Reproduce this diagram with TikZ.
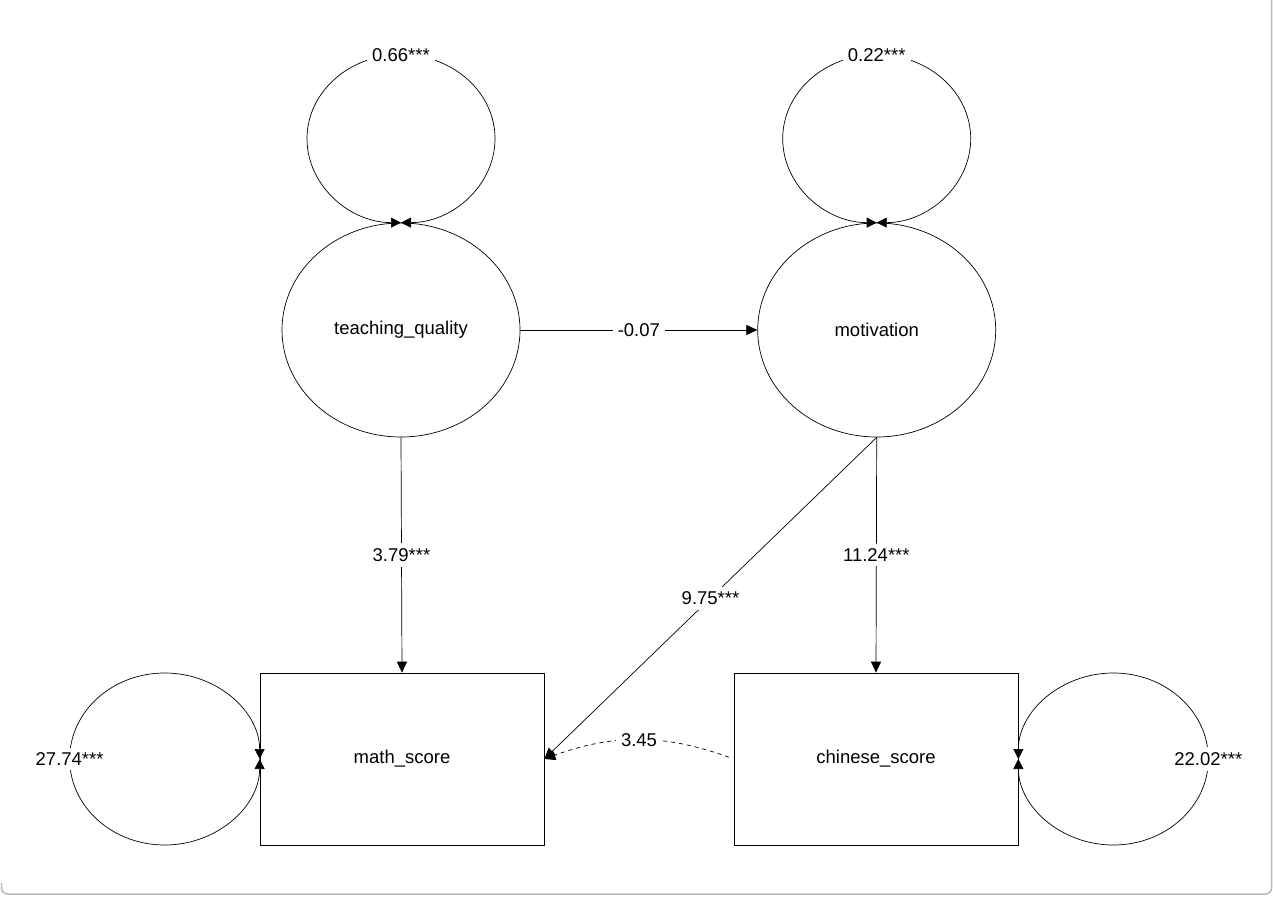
\documentclass[tikz,border=0pt]{standalone}
\usepackage{fontspec}
\setmainfont{Liberation Sans}
\usetikzlibrary{shapes.geometric,arrows.meta,positioning}

\begin{document}
\begin{tikzpicture}[x=1pt,y=1pt,
    font=\fontsize{18.5}{21}\selectfont, line width=0.7pt,
    latent/.style={ellipse, draw, minimum width=238pt, minimum height=214pt, inner sep=0pt},
    observed/.style={rectangle, draw, minimum width=284pt, minimum height=172pt, inner sep=0pt},
    regarrow/.style={-{Triangle[length=11pt,width=10pt]}},
    varloop/.style={{Triangle[length=10pt,width=10pt]}-{Triangle[length=10pt,width=10pt]}},
    est/.style={fill=white, inner sep=5pt}]

    \useasboundingbox (0,0) rectangle (1273,897);

    % window frame
    \draw[gray!55, line width=1.5pt, rounded corners=6pt] (1.5,14) |- (1271.5,3) -- (1271.5,897);

    % variables
    \node[latent] (teach) at (401,567) {teaching\_quality};
    \node[latent, right=237pt of teach] (motiv) {motivation};
    \node[observed] (math) at (402,138) {math\_score};
    \node[observed] (chin) at (876,138) {chinese\_score};

    % regressions
    \draw[regarrow] (teach) -- node[est]{-0.07} (motiv);
    \draw[regarrow] (teach.south) -- node[est]{3.79***} (math.north);
    \draw[regarrow] (motiv.south) -- node[est]{11.24***} (chin.north);
    \draw[regarrow] (motiv.south) -- node[est]{9.75***} (math.east);

    % covariance
    \draw[regarrow, dash pattern=on 4pt off 4pt, shorten <=5pt] (chin.west) to[out=160, in=20] node[est]{3.45} (math.east);

    % variances
    \draw[varloop] (teach.north) arc[start angle=-90, end angle=90, x radius=94, y radius=84]
        node[est]{0.66***} arc[start angle=90, end angle=270, x radius=94, y radius=84];
    \draw[varloop] (motiv.north) arc[start angle=-90, end angle=90, x radius=94, y radius=84]
        node[est]{0.22***} arc[start angle=90, end angle=270, x radius=94, y radius=84];
    \draw[varloop] (math.west) arc[start angle=0, end angle=180, x radius=95, y radius=86]
        node[est]{27.74***} arc[start angle=180, end angle=360, x radius=95, y radius=86];
    \draw[varloop] (chin.east) arc[start angle=180, end angle=0, x radius=95, y radius=86]
        node[est]{22.02***} arc[start angle=0, end angle=-180, x radius=95, y radius=86];

\end{tikzpicture}
\end{document}
